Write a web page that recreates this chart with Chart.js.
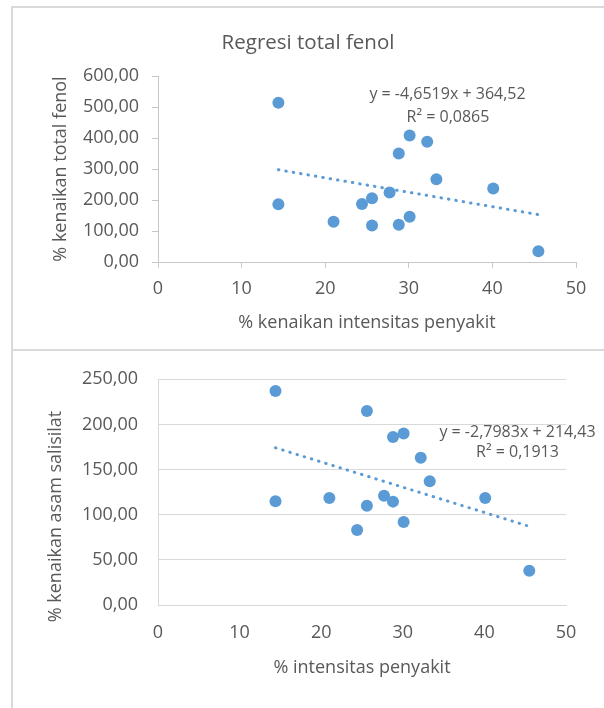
<!DOCTYPE html>
<html>
<head>
<meta charset="utf-8">
<script src="https://cdn.jsdelivr.net/npm/chart.js@4.4.1/dist/chart.umd.min.js"></script>
<style>
html,body{margin:0;padding:0;background:#fff;width:604px;height:708px;overflow:hidden;position:relative;}
#frame1{position:absolute;left:11px;top:6px;width:700px;height:341px;border:2px solid #d9d9d9;border-right:none;}
#frame2{position:absolute;left:11px;top:349px;width:700px;height:400px;border-left:2px solid #d9d9d9;border-top:2px solid #d9d9d9;}
canvas{position:absolute;left:0;}
#c1{top:0;}
#c2{top:346px;}
</style>
</head>
<body>
<div id="frame1"></div>
<div id="frame2"></div>
<canvas id="c1" width="604" height="346"></canvas>
<canvas id="c2" width="604" height="362"></canvas>
<script>
// ---- data ----
const xIntensitas    = [14.4, 14.4, 21.0, 24.4, 25.6, 25.6, 27.7, 28.8, 28.8, 30.1, 30.1, 32.2, 33.3, 40.1, 45.5];
const yTotalFenol    = [514, 186, 130, 187, 206, 118, 224, 350, 120, 408, 146, 388, 267, 237, 35];
const yAsamSalisilat = [237, 115, 118.5, 83, 215, 110, 121, 186, 114.5, 190, 92, 163, 137, 118.5, 38];
const fenolTrend     = [-4.6519, 364.52];   // slope, intercept
const salisilatTrend = [-2.7983, 214.43];
const fenolEquation     = ['y = -4,6519x + 364,52', 'R² = 0,0865'];
const salisilatEquation = ['y = -2,7983x + 214,43', 'R² = 0,1913'];
const xTicks = [0, 10, 20, 30, 40, 50];
const fenolYTicks = [0, 100, 200, 300, 400, 500, 600];
const salisilatYTicks = [0, 50, 100, 150, 200, 250];

// ---- style ----
const FONT = '"Open Sans", sans-serif';
const TEXT = '#595959';
const BLUE = '#5B9BD5';
const AXIS = '#c8c8c8';
const GRID = '#d9d9d9';
Chart.defaults.font.family = FONT;
Chart.defaults.color = TEXT;

const fmt = v => Number(v).toFixed(2).replace('.', ',');
const pts = ys => xIntensitas.map((x, i) => ({x: x, y: ys[i]}));
const trend = (t) => {
  const x0 = Math.min(...xIntensitas), x1 = Math.max(...xIntensitas);
  return [{x: x0, y: t[0] * x0 + t[1]}, {x: x1, y: t[0] * x1 + t[1]}];
};

const freeText = {
  id: 'freeText',
  afterDraw(chart, args, opts) {
    const ctx = chart.ctx;
    (opts.items || []).forEach(it => {
      ctx.save();
      ctx.font = it.font;
      ctx.fillStyle = TEXT;
      ctx.textAlign = 'center';
      ctx.textBaseline = 'middle';
      ctx.translate(it.x, it.y);
      if (it.rotation) ctx.rotate(it.rotation);
      ctx.fillText(it.text, 0, 0);
      ctx.restore();
    });
  }
};

function datasets(ys, t) {
  return [
    {type: 'scatter', data: pts(ys), backgroundColor: BLUE, borderColor: BLUE, borderWidth: 0, pointRadius: 6, pointHoverRadius: 6},
    {type: 'line', data: trend(t), borderColor: BLUE, borderWidth: 3, borderDash: [0.5, 7], borderCapStyle: 'round', pointRadius: 0, fill: false, tension: 0}
  ];
}

// ---- chart 1 ----
new Chart(document.getElementById('c1'), {
  type: 'scatter',
  data: {datasets: datasets(yTotalFenol, fenolTrend)},
  options: {
    responsive: false, animation: false, events: [],
    layout: {padding: {left: 40, right: 28, top: 10, bottom: 4}},
    plugins: {
      legend: {display: false}, tooltip: {enabled: false},
      title: {display: true, text: 'Regresi total fenol', color: TEXT,
              font: {size: 20.5, weight: 'normal', lineHeight: 1.2}, padding: {top: 20.7, bottom: 20.7}},
      freeText: {items: [
        {text: fenolEquation[0], x: 447.5, y: 94.5, font: '16px ' + FONT},
        {text: fenolEquation[1], x: 448, y: 117, font: '16px ' + FONT}
      ]}
    },
    scales: {
      x: {
        type: 'linear', min: 0, max: 50,
        afterBuildTicks: s => { s.ticks = xTicks.map(v => ({value: v})); },
        afterFit: s => { s.height = 80; },
        ticks: {font: {size: 18, lineHeight: 1.2}, color: TEXT, padding: 10.2},
        grid: {drawOnChartArea: false, drawTicks: true, tickLength: 6, tickColor: AXIS, color: AXIS},
        border: {display: true, color: AXIS, width: 1},
        title: {display: true, text: '% kenaikan intensitas penyakit', color: TEXT,
                font: {size: 18, lineHeight: 1.2}, padding: {top: 0, bottom: 8.2}}
      },
      y: {
        type: 'linear', min: 0, max: 600,
        afterBuildTicks: s => { s.ticks = fenolYTicks.map(v => ({value: v})); },
        afterFit: s => { s.width = 118; },
        ticks: {font: {size: 18, lineHeight: 1.2}, color: TEXT, padding: 13, callback: fmt},
        grid: {drawOnChartArea: false, drawTicks: true, tickLength: 6, tickColor: AXIS, color: AXIS},
        border: {display: true, color: AXIS, width: 1},
        title: {display: true, text: '% kenaikan total fenol', color: TEXT,
                font: {size: 18, lineHeight: 1.2}, padding: {top: 9.9, bottom: 0}}
      }
    }
  },
  plugins: [freeText]
});

// ---- chart 2 ----
new Chart(document.getElementById('c2'), {
  type: 'scatter',
  data: {datasets: datasets(yAsamSalisilat, salisilatTrend)},
  options: {
    responsive: false, animation: false, events: [],
    layout: {padding: {left: 40, right: 38, top: 33.3, bottom: 13}},
    plugins: {
      legend: {display: false}, tooltip: {enabled: false},
      freeText: {items: [
        {text: '% kenaikan asam salisilat', x: 56, y: 170.5, rotation: -Math.PI / 2, font: '18px ' + FONT},
        {text: salisilatEquation[0], x: 517.5, y: 86, font: '16px ' + FONT},
        {text: salisilatEquation[1], x: 517.5, y: 106.5, font: '16px ' + FONT}
      ]}
    },
    scales: {
      x: {
        type: 'linear', min: 0, max: 50,
        afterBuildTicks: s => { s.ticks = xTicks.map(v => ({value: v})); },
        afterFit: s => { s.height = 90; },
        ticks: {font: {size: 18, lineHeight: 1.2}, color: TEXT, padding: 17.2},
        grid: {display: false, drawTicks: false},
        border: {display: true, color: GRID, width: 1},
        title: {display: true, text: '% intensitas penyakit', color: TEXT,
                font: {size: 18, lineHeight: 1.2}, padding: {top: 0, bottom: 16.2}}
      },
      y: {
        type: 'linear', min: 0, max: 250,
        afterBuildTicks: s => { s.ticks = salisilatYTicks.map(v => ({value: v})); },
        afterFit: s => { s.width = 118; },
        ticks: {font: {size: 18, lineHeight: 1.2}, color: TEXT, padding: 20, callback: fmt},
        grid: {drawOnChartArea: true, drawTicks: false, color: GRID, lineWidth: 1},
        border: {display: true, color: GRID, width: 1}
      }
    }
  },
  plugins: [freeText]
});
</script>
</body>
</html>
